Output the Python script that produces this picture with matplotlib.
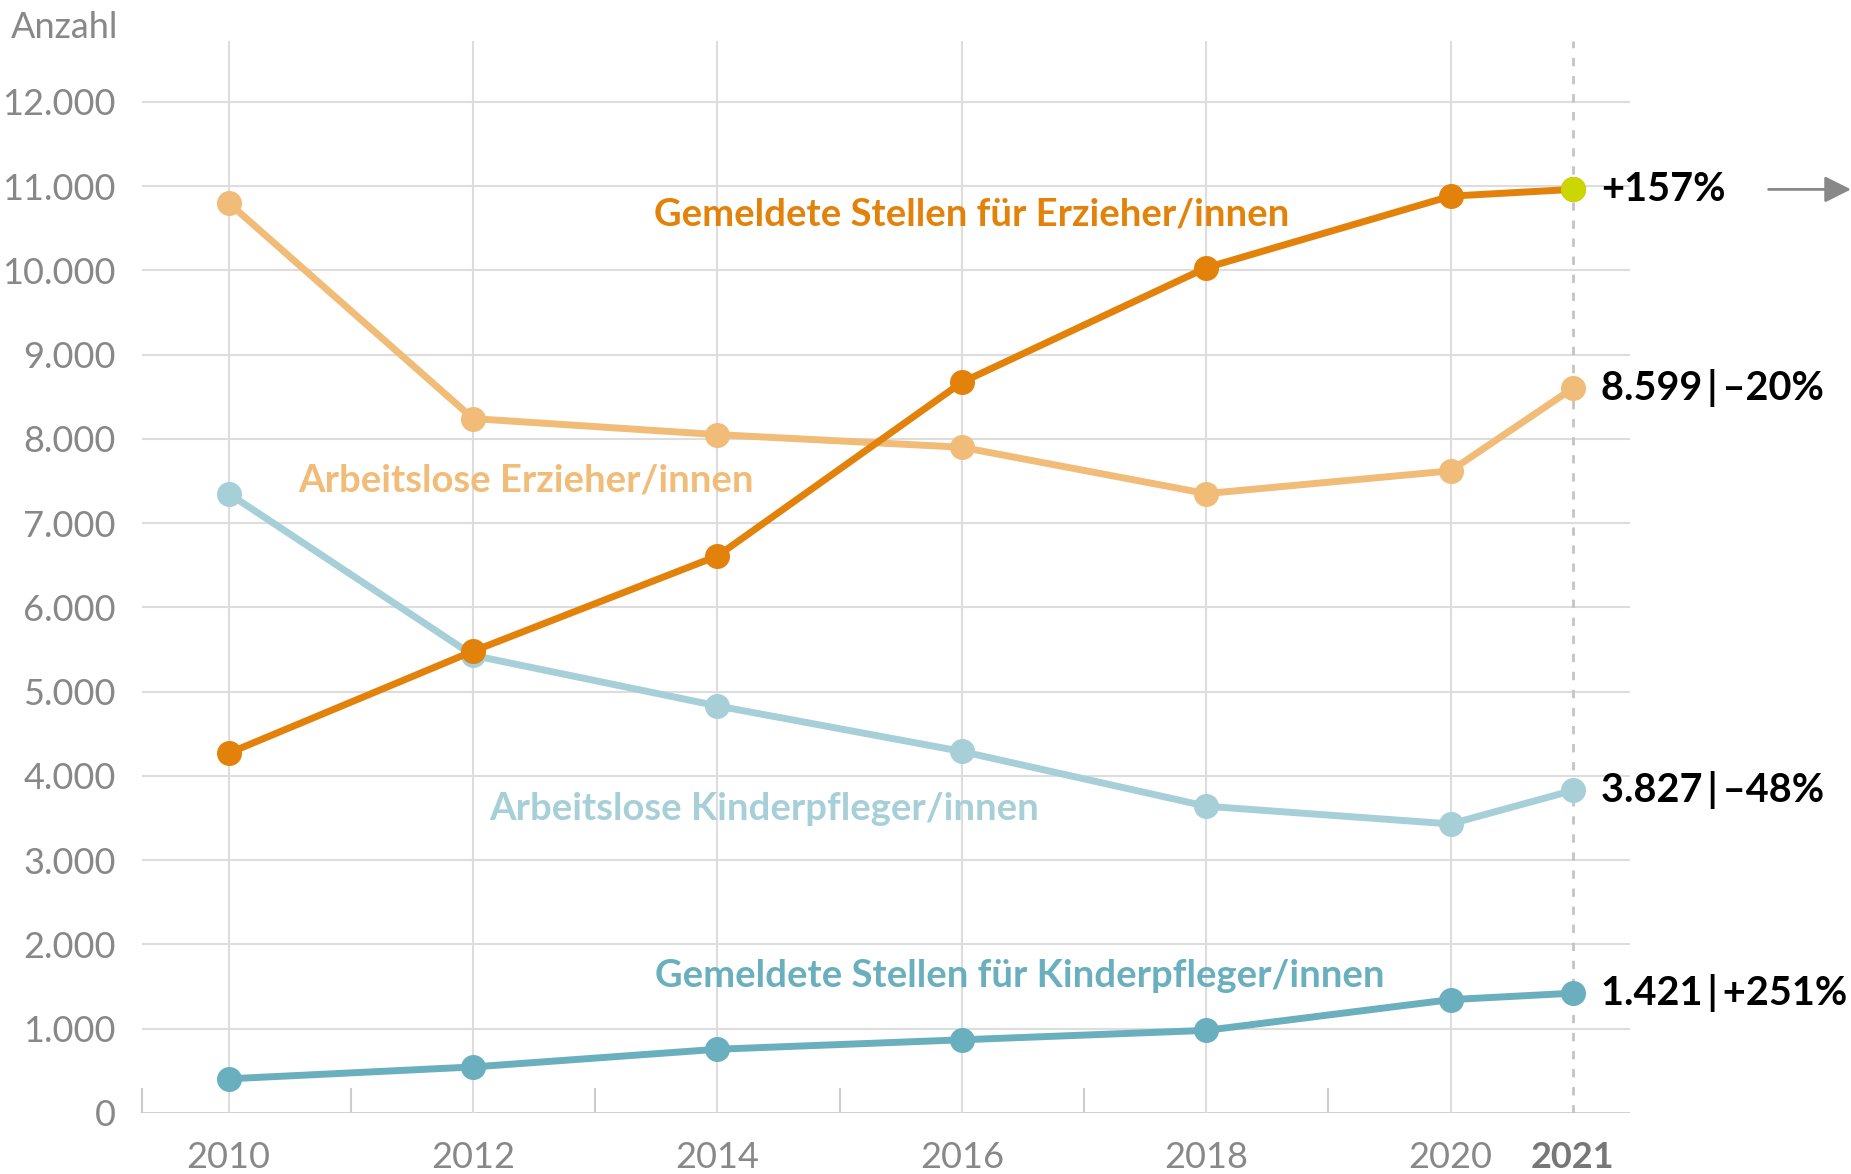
import numpy as np
import matplotlib
matplotlib.use('Agg')
from matplotlib import pyplot as plt

years = [2010, 2012, 2014, 2016, 2018, 2020, 2021]
stellen_erz = [4270, 5480, 6610, 8670, 10030, 10880, 10960]
arbeitslos_erz = [10800, 8240, 8050, 7900, 7350, 7620, 8599]
arbeitslos_kin = [7350, 5430, 4830, 4290, 3640, 3430, 3827]
stellen_kin = [405, 546, 756, 868, 980, 1345, 1421]

series_names = ['Gemeldete Stellen für Erzieher/innen', 'Arbeitslose Erzieher/innen',
                'Arbeitslose Kinderpfleger/innen', 'Gemeldete Stellen für Kinderpfleger/innen']
end_labels = ['+157%', '8.599\u2009|\u2009\u201320%', '3.827\u2009|\u2009\u201348%', '1.421\u2009|\u2009+251%']
yticks = list(range(0, 13000, 1000))
ytick_labels = ['0'] + [f'{v // 1000}.000' for v in yticks[1:]]
xtick_years = [2010, 2012, 2014, 2016, 2018, 2020, 2021]

colors = ['#E3820A', '#F0BC78', '#A7CFD7', '#6AAFBE']
font = 'Lato'
gray = '#888888'

plt.rcParams['font.family'] = [font, 'DejaVu Sans']

fig = plt.figure(figsize=(18.51, 11.74), dpi=100)
ax = fig.add_axes([0.0767, 0.052, 0.804, 0.913])
ax.set_xlim(2009.29, 2021.47)
ax.set_ylim(0, 12720)

# grid
for v in yticks[1:]:
    ax.axhline(v, color='#dddddd', lw=1.5, zorder=0)
ax.axhline(0, color='#cccccc', lw=2, zorder=0)
for yr in xtick_years[:-1]:
    ax.axvline(yr, color='#dddddd', lw=1.5, zorder=0)
ax.axvline(2021, color='#c4c4c4', lw=2, ls=(0, (3, 3.5)), zorder=0)

for s in ax.spines.values():
    s.set_visible(False)

ax.set_yticks(yticks)
ax.set_yticklabels(ytick_labels, fontsize=26, color=gray)
ax.tick_params(axis='y', length=0, pad=19)
ax.set_xticks(xtick_years)
ax.set_xticklabels([str(y) for y in xtick_years], fontsize=26, color=gray)
ax.tick_params(axis='x', length=0, pad=20)
ax.get_xticklabels()[-1].set_fontweight('bold')
ax.get_xticklabels()[-1].set_color('#777777')
ax.set_xticks([2009.29, 2011, 2013, 2015, 2017, 2019], minor=True)
ax.tick_params(axis='x', which='minor', direction='in', length=18, width=1.5, color='#cccccc')

data = [stellen_erz, arbeitslos_erz, arbeitslos_kin, stellen_kin]
zorders = [5, 3, 4, 3]
for vals, c, z in zip(data, colors, zorders):
    ax.plot(years, vals, color=c, lw=5, marker='o', markersize=17, zorder=z, clip_on=False)
# highlight last point of Stellen Erzieher
ax.plot(years[-1], stellen_erz[-1], 'o', color='#CCD600', markersize=17, zorder=6, clip_on=False)

# series labels
label_pos = [(2016.08, 10660), (2012.43, 7510), (2014.38, 3610), (2016.47, 1620)]
for name, (x, y), c in zip(series_names, label_pos, colors):
    ax.text(x, y, name, color=c, fontsize=27.5, fontweight='bold', ha='center', va='center')

# end labels
for vals, lab in zip(data, end_labels):
    ax.text(2021.23, vals[-1], lab, fontsize=28.5, fontweight='bold', color='black',
            ha='left', va='center', clip_on=False)

ax.annotate('', xy=(2023.3, stellen_erz[-1]), xytext=(2022.58, stellen_erz[-1]),
            arrowprops=dict(arrowstyle='-|>', color=gray, lw=2, mutation_scale=40),
            annotation_clip=False)

fig.text(0.006, 0.977, 'Anzahl', fontsize=26, color=gray, ha='left', va='center')

fig.savefig('out.png', dpi=100)
